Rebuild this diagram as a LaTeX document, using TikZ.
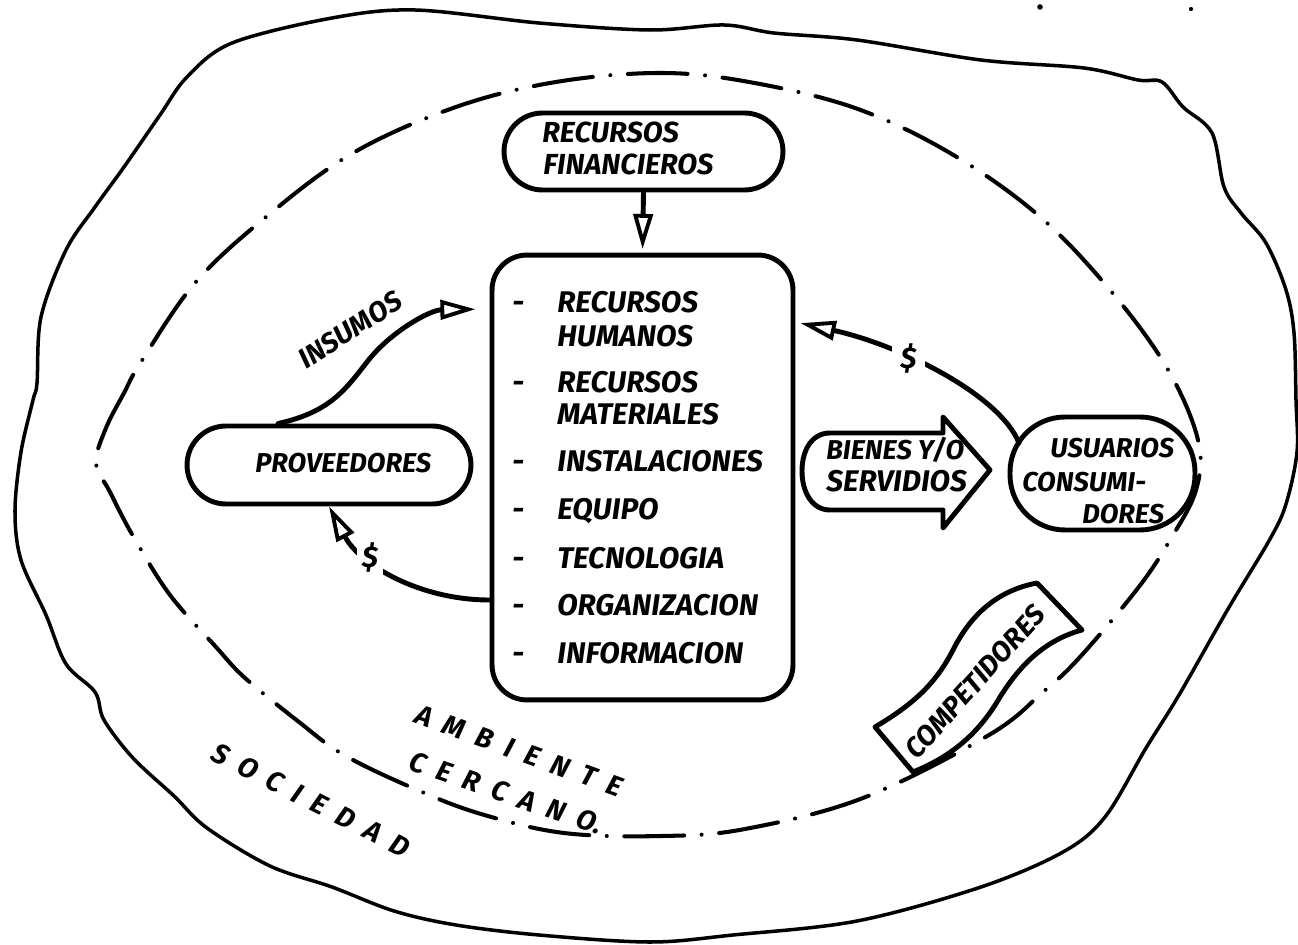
\documentclass[tikz,border=0pt]{standalone}
\usepackage{fontspec}
\newfontfamily\hand{Fira Sans}
\usetikzlibrary{arrows.meta,calc}
\newcommand\lgap{\hspace{7.5pt}}
\newcommand\pen{\hand\bfseries\itshape}
\begin{document}
\begin{tikzpicture}[x=0.02cm,y=-0.02cm,
  ink/.style={line width=2.8pt,line cap=round,line join=round},
  rim/.style={line width=2pt,line cap=round,line join=round},
  dashdot/.style={line width=2.3pt,line cap=round,
    dash pattern=on 34pt off 10pt on 0.01pt off 10pt},
  txt/.style={font=\pen\fontsize{17}{20}\selectfont,inner sep=0pt,anchor=base west},
  spaced/.style={font=\pen\fontsize{16}{19}\selectfont,inner sep=0pt,anchor=center},
  boxed/.style={draw,ink,inner sep=0pt},
  tipo/.style={-{Triangle[open,length=20pt,width=11pt,line width=2.2pt]}},
  money/.style={font=\pen\fontsize{17}{20}\selectfont,fill=white,inner sep=3pt}
]
\useasboundingbox (0,0) rectangle (1298,945);

% society: wobbly outer boundary
\draw[rim] plot[smooth cycle,tension=0.55] coordinates {
  (37,383) (41,317) (66,250) (95,207) (124,167) (160,115) (187,77) (232,43)
  (332,18) (415,10) (539,23) (650,30) (724,25) (774,33) (857,40) (981,60)
  (1084,68) (1138,80) (1162,82) (1183,107) (1212,133) (1224,187) (1241,213)
  (1266,243) (1286,290) (1294,333) (1296,400) (1297,452) (1286,504) (1270,539)
  (1228,609) (1179,695) (1146,748) (1105,817) (1063,852) (981,887) (857,921)
  (733,935) (650,942) (539,935) (456,925) (394,911) (332,887) (270,866)
  (207,828) (174,796) (133,758) (104,720) (95,692) (66,664) (46,615)
  (21,560) (15,511) (21,452) (33,400)};

% near environment: dash-dot oval
\draw[dashdot] plot[smooth cycle,tension=0.6] coordinates {
  (96,463) (106,428) (124,393) (141,362) (195,283) (266,217) (353,153) (456,107)
  (556,82) (660,73) (749,82) (855,108) (950,153) (1038,215) (1110,290)
  (1167,368) (1198,440) (1196,490) (1170,540) (1138,588) (1080,657) (1043,692)
  (989,735) (863,798) (745,829) (662,836) (564,833) (481,814) (415,789)
  (344,755) (299,722) (245,678) (216,647) (170,595) (133,536) (110,492)};

% loose dots in the corner
\fill (1040,7) circle[radius=1.6pt];
\fill (1191,9) circle[radius=1.2pt];

% financial resources
\node[boxed,rounded corners=0.77cm,minimum width=5.58cm,minimum height=1.54cm] (rf) at (643.5,151.5) {};
\node[txt,font=\pen\fontsize{16.5}{20}\selectfont] (rf1) at (542,143) {RECURSOS};
\node[txt,font=\pen\fontsize{16.5}{20}\selectfont] (rf2) at (543,175) {FINANCIEROS};

% the organisation
\node[boxed,rounded corners=0.7cm,minimum width=6.02cm,minimum height=8.9cm] (main) at (642.5,477.5) {};
\node[txt] (d1) at (512,313) {-};
\node[txt] (hum1) at (557,313) {RECURSOS};
\node[txt] (hum2) at (557,347) {HUMANOS};
\node[txt] (d2) at (512,393) {-};
\node[txt] (mat1) at (557,393) {RECURSOS};
\node[txt] (mat2) at (557,425) {MATERIALES};
\node[txt] (d3) at (512,472) {-};
\node[txt] (inst) at (557,472) {INSTALACIONES};
\node[txt] (d4) at (512,520) {-};
\node[txt] (equ) at (557,520) {EQUIPO};
\node[txt] (d5) at (512,568) {-};
\node[txt] (tec) at (557,568) {TECNOLOGIA};
\node[txt] (d6) at (512,615) {-};
\node[txt] (org) at (557,615) {ORGANIZACION};
\node[txt] (d7) at (512,663) {-};
\node[txt] (inf) at (557,663) {INFORMACION};

% suppliers
\node[boxed,rounded corners=0.78cm,minimum width=5.68cm,minimum height=1.56cm] (prov) at (329,465) {};
\node[txt,font=\pen\fontsize{15.5}{19}\selectfont] (provt) at (255,473) {PROVEEDORES};

% users / consumers
\node[boxed,rounded corners=1.1cm,minimum width=3.7cm,minimum height=2.26cm] (usu) at (1102.5,473.5) {};
\node[txt,font=\pen\fontsize{15.5}{19}\selectfont] (usu1) at (1050,458) {USUARIOS};
\node[txt,font=\pen\fontsize{15.5}{19}\selectfont] (usu2) at (1022,492) {CONSUMI-};
\node[txt,font=\pen\fontsize{15.5}{19}\selectfont] (usu3) at (1082,523) {DORES};

% goods and services: fat arrow
\node[txt,font=\pen\fontsize{15.5}{19}\selectfont] (bien1) at (826,460) {BIENES Y/O};
\node[txt,font=\pen\fontsize{17}{19}\selectfont] (bien2) at (826,492) {SERVIDIOS};
\draw[ink] (830,433) -- (943,433) -- (943,417) -- (990,470) -- (943,528) -- (943,510)
  -- (830,510) .. controls (812,510) and (802,492) .. (802,471)
  .. controls (802,450) and (812,433) .. (830,433) -- cycle;

% competitors: wavy banner lying over the oval
\draw[ink,fill=white] (875,727) .. controls (912,705) and (935,685) .. (953,650)
  .. controls (972,612) and (1000,590) .. (1037,583) -- (1082,630)
  .. controls (1045,640) and (1020,665) .. (1000,697)
  .. controls (978,735) and (950,757) .. (913,772) -- cycle;
\node[font=\pen\fontsize{16}{18}\selectfont,inner sep=0pt,rotate=48] (comp) at (975,682) {COMPETIDORES};

% flows
\draw[ink,tipo,shorten >=2pt] (rf.south) -- (main.north);
\coordinate (insA) at ($(prov.north)+(-51,0)$);
\coordinate (insB) at (main.west |- 0,309);
\draw[ink,tipo,shorten >=8pt] (insA) .. controls (330,412) and (345,390) .. (367,362)
  .. controls (390,332) and (430,310) .. (insB);
\node[font=\pen\fontsize{16}{18}\selectfont,inner sep=0pt,rotate=33] (insumos) at (350,330) {INSUMOS};

\coordinate (payA) at (main.west |- 0,600);
\draw[ink,tipo] (payA) .. controls (420,600) and (360,565) .. (prov.south)
  node[money,pos=0.66] (pay1) {\$};

\coordinate (usuA) at (1019,443);
\coordinate (payB) at (main.east |- 0,322);
\draw[ink,tipo,shorten >=3pt] (usuA) .. controls (1000,395) and (900,345) .. (payB)
  node[money,pos=0.62,inner sep=5pt] (pay2) {\$};

% labels of the surroundings
\node[spaced,rotate=-20] (amb) at (519,751) {A\lgap M\lgap B\lgap I\lgap E\lgap N\lgap T\lgap E};
\node[spaced,rotate=-19] (cer) at (506,793) {C\lgap E\lgap R\lgap C\lgap A\lgap N\lgap O.};
\node[spaced,rotate=-27] (soc) at (311,800) {S\lgap O\lgap C\lgap I\lgap E\lgap D\lgap A\lgap D};
\end{tikzpicture}
\end{document}
